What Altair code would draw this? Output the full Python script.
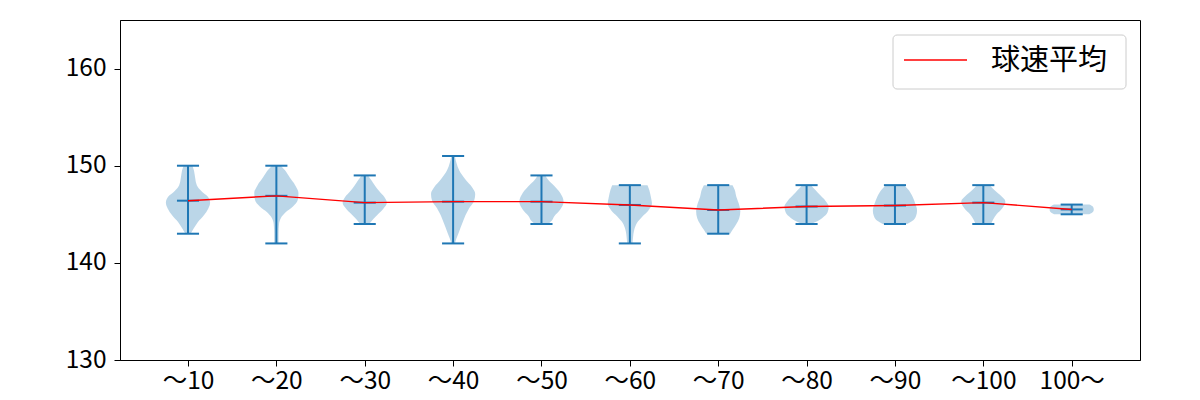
import altair as alt
import pandas as pd

labels = ["〜10", "〜20", "〜30", "〜40", "〜50", "〜60", "〜70", "〜80", "〜90", "〜100", "100〜"]
v_min = [143, 142, 144, 142, 144, 142, 143, 144, 144, 144, 145]
v_max = [150, 150, 149, 151, 149, 148, 148, 148, 148, 148, 146]
v_mean = [146.4, 146.9, 146.2, 146.3, 146.3, 145.96, 145.44, 145.8, 145.9, 146.2, 145.5]
legend_label = ["球速平均"]

# density profile of each violin: speed levels and relative half-width (1 = widest)
kde_levels = [
    [143, 143.5, 144.2, 144.9, 145.6, 146.2, 146.8, 147.4, 148.0, 148.8, 149.5, 150],
    [142, 143, 144, 144.6, 145.2, 145.8, 146.5, 147.2, 148, 148.8, 149.5, 150],
    [144, 144.5, 145, 145.6, 146.2, 146.8, 147.4, 148, 148.5, 149],
    [142, 142.5, 143.2, 144.1, 144.9, 145.6, 146.4, 147.1, 147.8, 148.6, 149.5, 150.3, 151],
    [144, 144.3, 144.8, 145.5, 146.3, 147.2, 148, 148.5, 149],
    [142, 142.5, 143.4, 144.1, 144.8, 145.4, 146.1, 146.8, 147.5, 148],
    [143, 143.4, 144, 144.6, 145.3, 146.1, 146.8, 147.5, 148],
    [144, 144.2, 144.6, 145.2, 145.8, 146.4, 147, 147.5, 148],
    [144, 144.3, 144.8, 145.4, 146.1, 146.8, 147.5, 148],
    [144, 144.5, 145, 145.6, 146.3, 147, 147.5, 148],
    [145, 145.25, 145.5, 145.75, 146],
]
kde_widths = [
    [0.12, 0.25, 0.45, 0.72, 0.92, 1.0, 0.9, 0.6, 0.4, 0.32, 0.27, 0.2],
    [0.1, 0.1, 0.12, 0.2, 0.42, 0.75, 0.97, 1.0, 0.85, 0.6, 0.4, 0.2],
    [0.2, 0.38, 0.6, 0.85, 1.0, 0.88, 0.65, 0.45, 0.3, 0.15],
    [0.08, 0.15, 0.27, 0.42, 0.56, 0.72, 0.95, 1.0, 0.85, 0.55, 0.28, 0.15, 0.08],
    [0.3, 0.45, 0.58, 0.85, 1.0, 0.85, 0.55, 0.32, 0.18],
    [0.12, 0.14, 0.2, 0.32, 0.58, 0.84, 1.0, 0.95, 0.88, 0.8],
    [0.54, 0.65, 0.82, 0.95, 1.0, 0.93, 0.82, 0.75, 0.65],
    [0.2, 0.4, 0.7, 0.95, 1.0, 0.85, 0.6, 0.4, 0.2],
    [0.55, 0.78, 0.95, 1.0, 0.92, 0.8, 0.62, 0.42],
    [0.35, 0.45, 0.6, 0.85, 1.0, 0.75, 0.5, 0.3],
    [0.8, 0.97, 1.0, 0.97, 0.8],
]

BLUE = "#1f77b4"
FONT = "Noto Sans CJK JP"
HALF = 0.25   # max half-width of a violin in category units
CAP = 0.125   # half-width of the caps

rows = []
for i, (lv, wd) in enumerate(zip(kde_levels, kde_widths)):
    pos = i + 1
    for y, w in zip(lv, wd):
        rows.append({"cat": labels[i], "pos": pos, "y": y,
                     "xl": pos - HALF * w, "xr": pos + HALF * w})
violin_df = pd.DataFrame(rows)

stats_df = pd.DataFrame({"cat": labels, "pos": list(range(1, len(labels) + 1)),
                         "vmin": v_min, "vmax": v_max, "vmean": v_mean})
stats_df["cl"] = stats_df["pos"] - CAP
stats_df["cr"] = stats_df["pos"] + CAP

caps_df = stats_df.melt(id_vars=["cat", "pos", "cl", "cr"], value_vars=["vmin", "vmax", "vmean"],
                        var_name="kind", value_name="val")

legend_df = pd.DataFrame({"series": legend_label})

label_js = "[" + ",".join("'" + l + "'" for l in labels) + "]"

xscale = alt.Scale(domain=[0.2305, 11.773], nice=False, zero=False)
yscale = alt.Scale(domain=[130, 165], nice=False, zero=False)

xaxis = alt.Axis(values=list(range(1, 12)), labelExpr=label_js + "[datum.value - 1]",
                 title=None, grid=False, labelFont=FONT, labelFontSize=24.5, labelColor="black",
                 tickColor="black", domainColor="black", tickSize=6, labelPadding=3,
                 labelFlush=False, labelOverlap=False)
yaxis = alt.Axis(values=[130, 140, 150, 160], title=None, grid=False, labelFont=FONT,
                 labelFontSize=24.5, labelColor="black", tickColor="black", domainColor="black",
                 tickSize=6, labelPadding=8)

violins = alt.Chart(violin_df).mark_area(orient="horizontal", interpolate="monotone",
                                          color=BLUE, opacity=0.3).encode(
    y=alt.Y("y:Q", scale=yscale, axis=yaxis),
    x=alt.X("xl:Q", scale=xscale, axis=xaxis),
    x2="xr:Q",
    detail="cat:N",
)

vlines = alt.Chart(stats_df).mark_rule(color=BLUE, strokeWidth=2).encode(
    x=alt.X("pos:Q", scale=xscale),
    y=alt.Y("vmin:Q", scale=yscale),
    y2="vmax:Q",
)

caps = alt.Chart(caps_df).mark_rule(color=BLUE, strokeWidth=2).encode(
    x=alt.X("cl:Q", scale=xscale),
    x2="cr:Q",
    y=alt.Y("val:Q", scale=yscale),
)

mean_line = alt.Chart(stats_df).mark_line(strokeWidth=1.4, color="red").encode(
    x=alt.X("pos:Q", scale=xscale),
    y=alt.Y("vmean:Q", scale=yscale),
)

# hand-made legend box in the upper right corner
leg_box = alt.Chart(legend_df).mark_rect(fill="white", stroke="#cccccc", strokeWidth=1,
                                         cornerRadius=4).encode(
    x=alt.value(773), x2=alt.value(1006), y=alt.value(15), y2=alt.value(69))
leg_line = alt.Chart(legend_df).mark_rule(color="red", strokeWidth=1.4).encode(
    x=alt.value(784), x2=alt.value(847), y=alt.value(40))
leg_text = alt.Chart(legend_df).mark_text(align="left", baseline="middle", font=FONT,
                                          fontSize=29, color="black").encode(
    x=alt.value(871), y=alt.value(41), text="series:N")

chart = alt.layer(violins, vlines, caps, mean_line, leg_box, leg_line, leg_text).properties(
    width=1020, height=340,
    padding={"left": 120, "top": 20, "right": 60, "bottom": 40},
    autosize=alt.AutoSizeParams(type="none"),
    background="white",
).configure_view(stroke="black", strokeWidth=1)

chart.save("out.html", embed_options={"renderer": "svg", "actions": False})
